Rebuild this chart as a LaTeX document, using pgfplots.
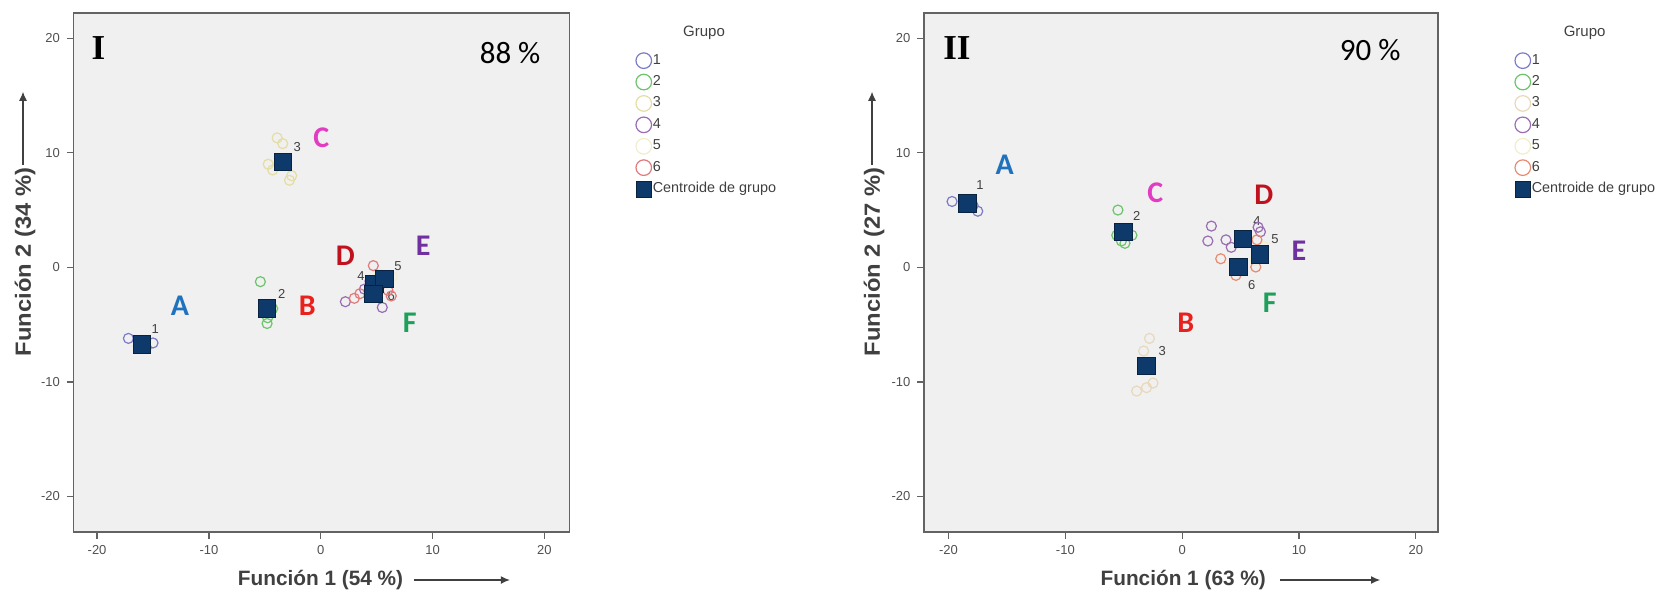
\documentclass[border=0pt]{standalone}
\usepackage{fontspec}
\setmainfont{Liberation Sans}
\newfontfamily\calib{Carlito}
\newfontfamily\tnr{Liberation Serif}
\usepackage{pgfplots}
\pgfplotsset{compat=1.18}
\usetikzlibrary{arrows.meta}
\definecolor{bgc}{HTML}{F0F0F0}
\definecolor{axc}{HTML}{636363}
\definecolor{tkc}{HTML}{505050}
\definecolor{lgc}{HTML}{404040}
\definecolor{gA}{HTML}{7B7BC8}
\definecolor{gB}{HTML}{6CC46C}
\definecolor{gC}{HTML}{E4DDA4}
\definecolor{gCb}{HTML}{E8D8BC}
\definecolor{gD}{HTML}{9A6CB4}
\definecolor{gE}{HTML}{F2EDCC}
\definecolor{gF}{HTML}{E27A7A}
\definecolor{gFb}{HTML}{E88A70}
\definecolor{cen}{HTML}{0D3A6B}
\definecolor{cenb}{HTML}{08223F}
\definecolor{lA}{HTML}{1F72BE}
\definecolor{lB}{HTML}{E8211D}
\definecolor{lC}{HTML}{E23CC2}
\definecolor{lD}{HTML}{C0121E}
\definecolor{lE}{HTML}{7030A0}
\definecolor{lF}{HTML}{1EA05A}
\tikzset{
  nlab/.style={font=\fontsize{6.5}{7}\selectfont, text=lgc},
  big/.style={font=\calib\bfseries\fontsize{15}{15}\selectfont},
  alab/.style={font=\bfseries\fontsize{10.4}{11}\selectfont, text=lgc},
  ylab/.style={font=\bfseries\fontsize{11}{12}\selectfont, text=lgc, rotate=90},
  arr/.style={-{Latex[length=4.5pt,width=4pt]}, line width=0.55pt, lgc},
}
\pgfplotsset{
  dstyle/.style={
    scale only axis, anchor=south west,
    xmin=-22.1, ymin=-23.1, ymax=22.2,
    axis background/.style={fill=bgc},
    axis line style={draw=axc, line width=0.8pt},
    xtick={-20,-10,0,10,20}, ytick={-20,-10,0,10,20},
    tick align=outside, xtick pos=left, ytick pos=left,
    major tick length=3.3pt,
    every tick/.style={draw=axc, line width=0.6pt},
    ticklabel style={font=\fontsize{6.5}{7}\selectfont, text=tkc},
    /pgf/number format/assume math mode=true,
    clip=false,
    legend cell align=left,
    legend style={draw=none, fill=none, anchor=north west, inner sep=0pt,
      font=\fontsize{7.2}{8}\selectfont, text=lgc, row sep=2.9pt,
      nodes={inner sep=0.6pt}},
    legend image code/.code={\draw[mark repeat=2,mark phase=2,##1] plot coordinates {(0pt,0pt)(4pt,0pt)(11pt,0pt)};},
    legend image post style={mark size=3.9pt},
  },
  grp/.style={only marks, mark=o, mark size=2.5pt, mark options={line width=0.6pt, draw=#1}},
  cen/.style={only marks, mark=square*, mark size=4.4pt, mark options={fill=cen, draw=cenb, line width=0.4pt}},
}
\begin{document}
\begin{tikzpicture}[x=1pt,y=1pt]
\useasboundingbox (0,0) rectangle (836.5,295.5);
% ---------------- Panel I ----------------
\begin{axis}[dstyle, at={(36.8pt,29.5pt)}, width=248pt, height=259.5pt, xmax=22.25,
  legend style={at={(axis description cs:1.133,0.924)}}]
\addplot[grp=gA] coordinates {(-17.2,-6.2) (-15.0,-6.6) (-15.6,-7.0) (-16.3,-6.9)};
\addlegendentry{1}
\addplot[grp=gB] coordinates {(-5.4,-1.25) (-4.8,-4.9) (-4.75,-4.4) (-4.3,-3.6)};
\addlegendentry{2}
\addplot[grp=gC] coordinates {(-3.4,10.8) (-4.7,9.0) (-2.8,7.6) (-3.9,11.3) (-4.3,8.5) (-2.6,8.0)};
\addlegendentry{3}
\addplot[grp=gD] coordinates {(2.2,-3.0) (5.5,-3.5) (3.9,-1.9) (4.4,-1.2)};
\addlegendentry{4}
\addplot[grp=gE] coordinates {(5.2,-0.6) (6.0,-1.3) (6.4,-0.8)};
\addlegendentry{5}
\addplot[grp=gF] coordinates {(4.7,0.15) (3.5,-2.3) (6.3,-2.5) (3.0,-2.7) (6.0,-2.0)};
\addlegendentry{6}
\addplot[cen] coordinates {(-16.0,-6.7) (-4.8,-3.6) (-3.4,9.2) (4.8,-1.45) (5.7,-1.0) (4.7,-2.3)};
\addlegendentry{Centroide de grupo}
\node[nlab] at (axis cs:-14.8,-5.4) {1};
\node[nlab] at (axis cs:-3.5,-2.3) {2};
\node[nlab] at (axis cs:-2.1,10.5) {3};
\node[nlab] at (axis cs:3.6,-0.8) {4};
\node[nlab] at (axis cs:6.9,0.15) {5};
\node[nlab] at (axis cs:6.3,-2.5) {6};
\node[big, text=lA] at (axis cs:-12.6,-3.35) {A};
\node[big, text=lB] at (axis cs:-1.2,-3.35) {B};
\node[big, text=lC] at (axis cs:0.06,11.35) {C};
\node[big, text=lD] at (axis cs:2.2,1.0) {D};
\node[big, text=lE] at (axis cs:9.15,1.9) {E};
\node[big, text=lF] at (axis cs:7.96,-4.8) {F};
\node[font=\tnr\bfseries\fontsize{17.5}{17.5}\selectfont] at (rel axis cs:0.05,0.932) {I};
\node[font=\calib\fontsize{15.5}{15.5}\selectfont] at (rel axis cs:0.88,0.922) {88 \%};
\end{axis}
\node[font=\fontsize{7.5}{8}\selectfont, text=lgc] at (352,278.85) {Grupo};
\node[alab] at (160.25,5.5) {Función 1 (54 \%)};
\draw[arr] (206.85,5.5) -- (254.9,5.5);
\node[ylab] at (12.5,164.65) {\scalebox{1.08}[1]{Función 2 (34 \%)}};
\draw[arr] (11.5,213) -- (11.5,249.6);
% ---------------- Panel II ----------------
\begin{axis}[dstyle, at={(462pt,29.5pt)}, width=257pt, height=259.5pt, xmax=21.9,
  legend style={at={(axis description cs:1.149,0.924)}}]
\addplot[grp=gA] coordinates {(-19.7,5.75) (-17.5,4.9) (-17.9,5.4)};
\addlegendentry{1}
\addplot[grp=gB] coordinates {(-5.5,5.0) (-4.9,2.1) (-5.6,2.8) (-4.3,2.8) (-5.2,2.3)};
\addlegendentry{2}
\addplot[grp=gCb] coordinates {(-2.8,-6.2) (-3.9,-10.8) (-3.05,-10.5) (-2.5,-10.1) (-3.3,-7.3)};
\addlegendentry{3}
\addplot[grp=gD] coordinates {(2.5,3.6) (2.2,2.3) (3.75,2.4) (4.2,1.75) (6.7,3.1) (6.5,3.5)};
\addlegendentry{4}
\addplot[grp=gE] coordinates {(7.0,1.8) (6.2,0.6)};
\addlegendentry{5}
\addplot[grp=gFb] coordinates {(3.3,0.75) (6.3,0.03) (6.4,2.4) (4.6,-0.7)};
\addlegendentry{6}
\addplot[cen] coordinates {(-18.4,5.6) (-5.05,3.1) (-3.05,-8.6) (5.2,2.5) (6.65,1.15) (4.8,0.03)};
\addlegendentry{Centroide de grupo}
\node[nlab] at (axis cs:-17.3,7.15) {1};
\node[nlab] at (axis cs:-3.9,4.45) {2};
\node[nlab] at (axis cs:-1.7,-7.3) {3};
\node[nlab] at (axis cs:6.4,4.0) {4};
\node[nlab] at (axis cs:7.95,2.5) {5};
\node[nlab] at (axis cs:5.95,-1.5) {6};
\node[big, text=lA] at (axis cs:-15.2,8.96) {A};
\node[big, text=lB] at (axis cs:0.3,-4.86) {B};
\node[big, text=lC] at (axis cs:-2.3,6.5) {C};
\node[big, text=lD] at (axis cs:7.0,6.3) {D};
\node[big, text=lE] at (axis cs:10.0,1.45) {E};
\node[big, text=lF] at (axis cs:7.5,-3.1) {F};
\node[font=\tnr\bfseries\fontsize{17.5}{17.5}\selectfont] at (rel axis cs:0.064,0.933) {II};
\node[font=\calib\fontsize{15.5}{15.5}\selectfont] at (rel axis cs:0.868,0.929) {90 \%};
\end{axis}
\node[font=\fontsize{7.5}{8}\selectfont, text=lgc] at (792.3,278.85) {Grupo};
\node[alab] at (591.6,5.5) {Función 1 (63 \%)};
\draw[arr] (640,5.5) -- (690,5.5);
\node[ylab] at (437,164.65) {\scalebox{1.08}[1]{Función 2 (27 \%)}};
\draw[arr] (436,213) -- (436,249.6);
\end{tikzpicture}
\end{document}
